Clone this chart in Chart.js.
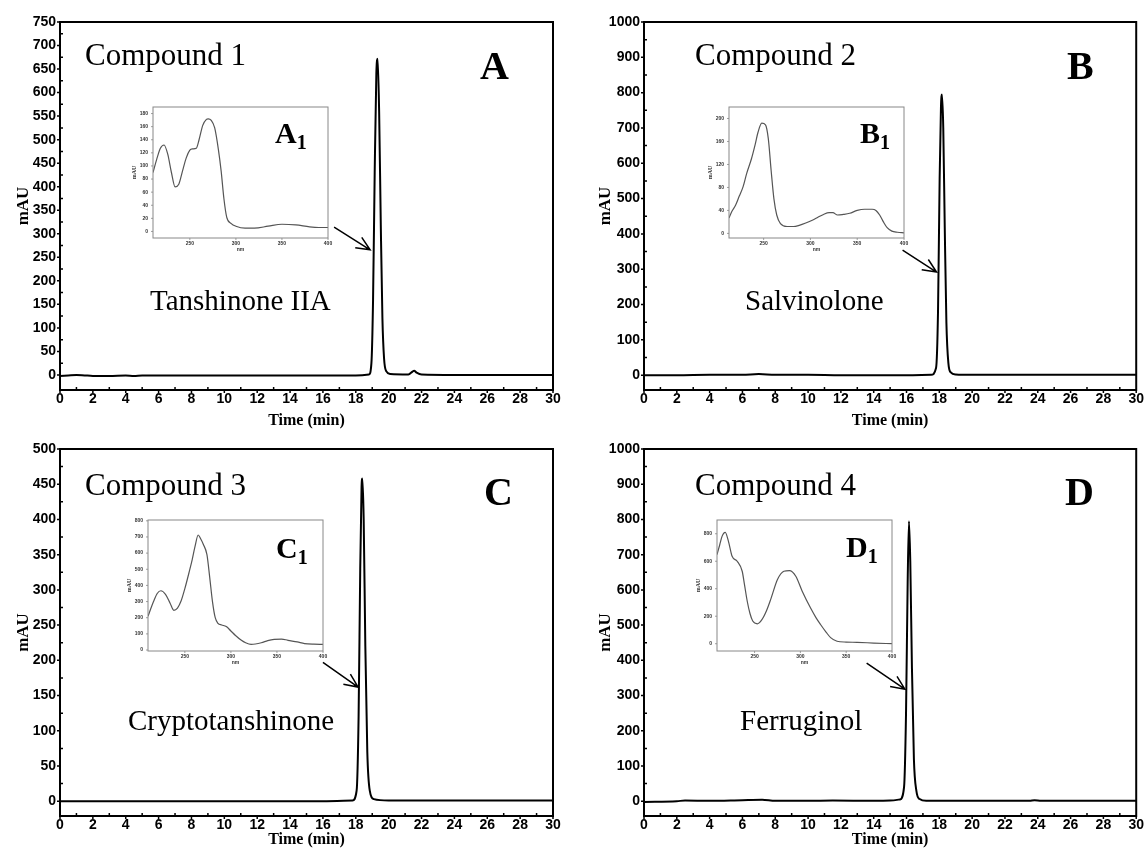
<!DOCTYPE html>
<html><head><meta charset="utf-8">
<script src="https://cdn.jsdelivr.net/npm/chart.js@4.4.1/dist/chart.umd.min.js"></script>
<style>
html,body{margin:0;padding:0;background:#fff;}
#wrap{position:relative;width:1145px;height:852px;overflow:hidden;background:#fff;}
canvas{position:absolute;}
.t{position:absolute;white-space:nowrap;line-height:1;color:#000;font-family:"Liberation Serif","Times New Roman",serif;}
.b{font-weight:bold;}
.sub{font-size:20px;position:relative;top:6px;}
</style></head><body>
<div id="wrap">
<canvas id="cA" width="567" height="432" style="left:0;top:0"></canvas>
<canvas id="cB" width="568" height="432" style="left:577px;top:0"></canvas>
<canvas id="cC" width="567" height="425" style="left:0;top:427px"></canvas>
<canvas id="cD" width="568" height="425" style="left:577px;top:427px"></canvas>
<canvas id="iA" width="214" height="158" style="left:122px;top:98px"></canvas>
<canvas id="iB" width="214" height="158" style="left:698px;top:98px"></canvas>
<canvas id="iC" width="214" height="158" style="left:117px;top:511px"></canvas>
<canvas id="iD" width="214" height="158" style="left:686px;top:511px"></canvas>

<div class="t" style="left:85px;top:39px;font-size:31px">Compound 1</div>
<div class="t" style="left:695px;top:39px;font-size:31px">Compound 2</div>
<div class="t" style="left:85px;top:469px;font-size:31px">Compound 3</div>
<div class="t" style="left:695px;top:469px;font-size:31px">Compound 4</div>

<div class="t b" style="left:480px;top:46px;font-size:40px">A</div>
<div class="t b" style="left:1067px;top:46px;font-size:40px">B</div>
<div class="t b" style="left:484px;top:472px;font-size:40px">C</div>
<div class="t b" style="left:1065px;top:472px;font-size:40px">D</div>

<div class="t" style="left:150px;top:286px;font-size:29px">Tanshinone IIA</div>
<div class="t" style="left:745px;top:286px;font-size:29px">Salvinolone</div>
<div class="t" style="left:128px;top:706px;font-size:29px">Cryptotanshinone</div>
<div class="t" style="left:740px;top:706px;font-size:29px">Ferruginol</div>

<div class="t b" style="left:275px;top:118px;font-size:30px">A<span class="sub">1</span></div>
<div class="t b" style="left:860px;top:118px;font-size:30px">B<span class="sub">1</span></div>
<div class="t b" style="left:276px;top:533px;font-size:30px">C<span class="sub">1</span></div>
<div class="t b" style="left:846px;top:532px;font-size:30px">D<span class="sub">1</span></div>
</div>
<script>
// ---------- tick labels ----------
const timeTicks = [0,2,4,6,8,10,12,14,16,18,20,22,24,26,28,30];
const yTicksA = [0,50,100,150,200,250,300,350,400,450,500,550,600,650,700,750];
const yTicksB = [0,100,200,300,400,500,600,700,800,900,1000];
const yTicksC = [0,50,100,150,200,250,300,350,400,450,500];
const yTicksD = [0,100,200,300,400,500,600,700,800,900,1000];
const nmTicks = [250,300,350,400];
const insetTicksA = [0,20,40,60,80,100,120,140,160,180];
const insetTicksB = [0,40,80,120,160,200];
const insetTicksC = [0,100,200,300,400,500,600,700,800];
const insetTicksD = [0,200,400,600,800];

// ---------- chromatograms (time, mAU) ----------
const timeA = [0,0.5,1,1.5,2,3,4,4.5,5,6,8,10,12,14,16,18,18.8,18.95,19.05,19.15,19.25,19.33,19.42,19.52,19.62,19.72,19.85,20.1,21.2,21.45,21.55,21.7,22,24,27,30];
const mauA  = [-2,-1,0,-1,-2,-2,-1,-2,-1,-1,-1,-1,-1,-1,-1,-1,1,25,160,430,640,672,560,320,120,35,8,2,1,7,9,5,1,0,0,0];

const timeB = [0,2,4,6,7,8,10,12,14,16,17.5,17.8,17.92,18.02,18.1,18.16,18.24,18.33,18.43,18.55,18.7,19,20,24,27,30];
const mauB  = [0,0,1,1,3,1,1,0,0,0,1,20,180,560,760,795,700,420,150,35,8,2,1,1,1,1];

const timeC = [0,2,4,6,8,10,12,14,16,17.8,18.05,18.17,18.27,18.35,18.4,18.48,18.58,18.7,18.85,19.1,20,24,27,30];
const mauC  = [0,0,0,0,0,0,0,0,0,1,15,120,330,445,458,400,220,70,15,3,1,1,1,1];

const timeD = [0,2,2.5,4,6,7.2,8,10,11.5,14,15,15.6,15.85,15.97,16.07,16.15,16.23,16.33,16.45,16.6,16.8,17.2,20,23.5,23.8,24.2,27,30];
const mauD  = [-2,0,2,1,3,4,1,1,2,1,2,5,40,250,620,795,680,380,120,30,6,1,1,1,3,1,1,1];

// ---------- UV spectra insets (nm, mAU) ----------
const nmA1  = [210,214,218,222,226,230,234,238,242,246,250,253,257,260,264,268,270,273,277,281,284,287,290,295,300,310,320,335,350,365,380,390,400];
const mauA1 = [90,110,127,132,118,90,68,72,92,112,124,126,127,140,162,171,172,170,158,125,92,50,22,12,8,5,5,8,11,10,7,6,6];

const nmB1  = [213,216,220,224,228,232,237,241,244,248,252,255,258,261,264,268,275,282,288,295,302,308,314,320,324,329,335,342,350,358,366,370,374,378,382,387,393,400];
const mauB1 = [27,38,49,65,81,105,130,155,176,192,189,165,110,60,32,17,12,12,14,18,23,28,33,36,36,32,33,35,40,42,42,40,32,20,10,4,2,1];

const nmC1  = [210,216,220,224,229,234,238,242,246,250,255,258,261,264.5,267,270,274,277,280,283,286,290,295,300,305,311,316,322,333,340,347,355,362,372,380,390,400];
const mauC1 = [209,300,350,367,345,290,246,260,305,380,490,560,640,712,690,655,590,450,300,200,165,155,145,118,90,62,45,35,45,58,66,68,60,50,40,36,35];

const nmD1  = [209,212,214.5,218,221.5,225.5,231,236.5,239,242,245,248,253,258,263,268,275,282,288,295,302,311,317,322,328,333,340,350,362,380,400];
const mauD1 = [648,720,781,810,745,636,600,527,430,309,220,165,145,175,240,330,467,527,532,491,382,261,190,140,85,44,18,12,10,5,0];

// ---------- arrows (time, mAU) ----------
const arrowA = [[16.68,314],[18.87,266]];
const arrowB = [[15.76,354],[17.83,292]];
const arrowC = [[16.0,197],[18.14,162]];
const arrowD = [[13.57,392],[15.9,318]];

const SERIF = '"Liberation Serif","Times New Roman",serif';
const SANS = '"Liberation Sans",Arial,sans-serif';

const framePlugin = {
  id: 'frame',
  afterDraw(chart, args, o) {
    const {ctx, chartArea: a, scales: {x, y}} = chart;
    ctx.save();
    ctx.strokeStyle = o.color;
    ctx.lineWidth = o.width;
    ctx.strokeRect(a.left, a.top, a.right - a.left, a.bottom - a.top);
    ctx.lineWidth = o.tickWidth;
    ctx.beginPath();
    const tx = x.ticks.map(t => t.value), ty = y.ticks.map(t => t.value);
    tx.forEach((v, i) => {
      const px = x.getPixelForValue(v);
      ctx.moveTo(px, a.bottom); ctx.lineTo(px, a.bottom + o.major);
      if (o.minor && i < tx.length - 1) {
        const m = x.getPixelForValue((v + tx[i + 1]) / 2);
        ctx.moveTo(m, a.bottom); ctx.lineTo(m, a.bottom - o.minor);
      }
    });
    ty.forEach((v, i) => {
      const py = y.getPixelForValue(v);
      ctx.moveTo(a.left, py); ctx.lineTo(a.left - o.major, py);
      if (o.minor && i < ty.length - 1) {
        const m = y.getPixelForValue((v + ty[i + 1]) / 2);
        ctx.moveTo(a.left, m); ctx.lineTo(a.left + o.minor, m);
      }
    });
    ctx.stroke();
    if (o.arrow) {
      const [p, q] = o.arrow;
      const x1 = x.getPixelForValue(p[0]), y1 = y.getPixelForValue(p[1]);
      const x2 = x.getPixelForValue(q[0]), y2 = y.getPixelForValue(q[1]);
      const ang = Math.atan2(y2 - y1, x2 - x1), L = 15, s = 0.42;
      ctx.lineWidth = 1.5;
      ctx.beginPath();
      ctx.moveTo(x1, y1); ctx.lineTo(x2, y2);
      ctx.moveTo(x2 - L * Math.cos(ang - s), y2 - L * Math.sin(ang - s));
      ctx.lineTo(x2, y2);
      ctx.lineTo(x2 - L * Math.cos(ang + s), y2 - L * Math.sin(ang + s));
      ctx.stroke();
    }
    ctx.restore();
  }
};

function pts(xs, ys) { return xs.map((v, i) => ({x: v, y: ys[i]})); }

const NOGRID = {display: false, drawTicks: false, tickLength: 0};

function mainChart(id, time, mau, yTicks, yMin, yMax, lay, arrow) {
  new Chart(document.getElementById(id), {
    type: 'line',
    data: {datasets: [{data: pts(time, mau), borderColor: '#000', borderWidth: 2, pointRadius: 0, cubicInterpolationMode: 'monotone', fill: false}]},
    options: {
      responsive: false, animation: false, devicePixelRatio: 1,
      layout: {padding: {top: lay.pt, right: lay.pr, left: 0, bottom: 0}},
      plugins: {legend: {display: false}, tooltip: {enabled: false},
        frame: {color: '#000', width: 2, tickWidth: 1.5, major: 3, minor: 3, arrow: arrow}},
      scales: {
        x: {type: 'linear', min: 0, max: 30,
          afterBuildTicks: s => { s.ticks = timeTicks.map(v => ({value: v})); },
          afterFit: s => { s.height = lay.xh; },
          grid: NOGRID, border: {display: false},
          ticks: {font: {family: SANS, weight: 'bold', size: 14}, color: '#000', padding: 1, maxRotation: 0, autoSkip: false, callback: v => String(v)},
          title: {display: true, text: 'Time (min)', color: '#000', font: {family: SERIF, weight: 'bold', size: 16}, padding: {top: 0, bottom: lay.xtp}}},
        y: {type: 'linear', min: yMin, max: yMax,
          afterBuildTicks: s => { s.ticks = yTicks.map(v => ({value: v})); },
          afterFit: s => { s.width = lay.yw; },
          grid: NOGRID, border: {display: false},
          ticks: {font: {family: SANS, weight: 'bold', size: 14}, color: '#000', padding: 4, autoSkip: false, callback: v => String(v)},
          title: {display: true, text: 'mAU', color: '#000', font: {family: SERIF, weight: 'bold', size: 17}, padding: {top: lay.ytp, bottom: 0}}}
      }
    },
    plugins: [framePlugin]
  });
}

function insetChart(id, nm, mau, yTicks, xMin, yMin, yMax) {
  new Chart(document.getElementById(id), {
    type: 'line',
    data: {datasets: [{data: pts(nm, mau), borderColor: '#555', borderWidth: 1.2, pointRadius: 0, cubicInterpolationMode: 'monotone', fill: false}]},
    options: {
      responsive: false, animation: false, devicePixelRatio: 1,
      layout: {padding: {top: 9, right: 8, left: 0, bottom: 0}},
      plugins: {legend: {display: false}, tooltip: {enabled: false},
        frame: {color: '#888', width: 1, tickWidth: 0.8, major: 2, minor: 0, arrow: null}},
      scales: {
        x: {type: 'linear', min: xMin, max: 400,
          afterBuildTicks: s => { s.ticks = nmTicks.map(v => ({value: v})); },
          afterFit: s => { s.height = 18; },
          grid: NOGRID, border: {display: false},
          ticks: {font: {family: SANS, weight: 'bold', size: 5}, color: '#333', padding: 3, maxRotation: 0, autoSkip: false, callback: v => String(v)},
          title: {display: true, text: 'nm', color: '#333', font: {family: SANS, weight: 'bold', size: 5}, padding: {top: 0, bottom: 3}}},
        y: {type: 'linear', min: yMin, max: yMax,
          afterBuildTicks: s => { s.ticks = yTicks.map(v => ({value: v})); },
          afterFit: s => { s.width = 31; },
          grid: NOGRID, border: {display: false},
          ticks: {font: {family: SANS, weight: 'bold', size: 5}, color: '#333', padding: 5, autoSkip: false, callback: v => String(v)},
          title: {display: true, text: 'mAU', color: '#333', font: {family: SERIF, weight: 'bold', size: 6}, padding: {top: 9, bottom: 0}}}
      }
    },
    plugins: [framePlugin]
  });
}

mainChart('cA', timeA, mauA, yTicksA, -32, 750, {pt: 22, pr: 14, xh: 42, yw: 60, xtp: 2, ytp: 13}, arrowA);
mainChart('cB', timeB, mauB, yTicksB, -42, 1000, {pt: 22, pr: 8, xh: 42, yw: 67, xtp: 2, ytp: 18}, arrowB);
mainChart('cC', timeC, mauC, yTicksC, -21, 500, {pt: 22, pr: 14, xh: 36, yw: 60, xtp: 3, ytp: 13}, arrowC);
mainChart('cD', timeD, mauD, yTicksD, -42, 1000, {pt: 22, pr: 8, xh: 36, yw: 67, xtp: 3, ytp: 18}, arrowD);

insetChart('iA', nmA1, mauA1, insetTicksA, 210, -10, 190);
insetChart('iB', nmB1, mauB1, insetTicksB, 213, -8, 220);
insetChart('iC', nmC1, mauC1, insetTicksC, 210, -6, 805);
insetChart('iD', nmD1, mauD1, insetTicksD, 209, -53, 900);
</script>
</body></html>
